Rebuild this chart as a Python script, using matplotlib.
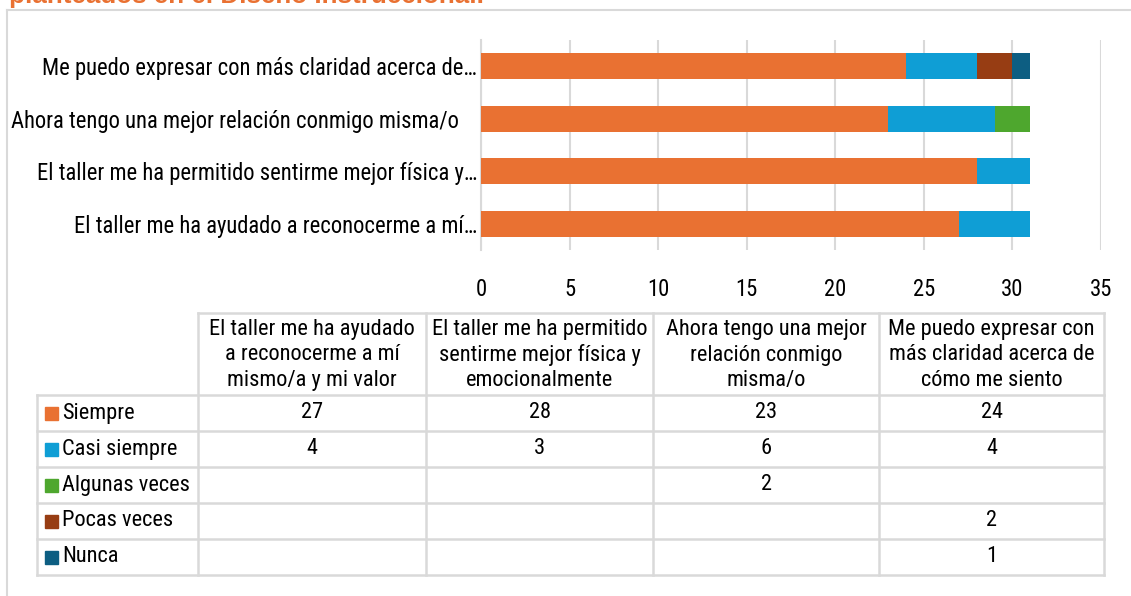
import matplotlib
matplotlib.use("Agg")
import matplotlib.pyplot as plt
from matplotlib.patches import Rectangle
from matplotlib.lines import Line2D
from matplotlib.transforms import ScaledTranslation
import numpy as np

# ---------------- data ----------------
categories = [
    "El taller me ha ayudado a reconocerme a mí mismo/a y mi valor",
    "El taller me ha permitido sentirme mejor física y emocionalmente",
    "Ahora tengo una mejor relación conmigo misma/o",
    "Me puedo expresar con más claridad acerca de cómo me siento",
]
axis_labels = [
    "El taller me ha ayudado a reconocerme a mí…",
    "El taller me ha permitido sentirme mejor física y…",
    "Ahora tengo una mejor relación conmigo misma/o",
    "Me puedo expresar con más claridad acerca de…",
]
header_labels = [
    "El taller me ha ayudado\na reconocerme a mí\nmismo/a y mi valor",
    "El taller me ha permitido\nsentirme mejor física y\nemocionalmente",
    "Ahora tengo una mejor\nrelación conmigo\nmisma/o",
    "Me puedo expresar con\nmás claridad acerca de\ncómo me siento",
]
series_names = ["Siempre", "Casi siempre", "Algunas veces", "Pocas veces", "Nunca"]
siempre = [27, 28, 23, 24]
casi_siempre = [4, 3, 6, 4]
algunas_veces = [0, 0, 2, 0]
pocas_veces = [0, 0, 0, 2]
nunca = [0, 0, 0, 1]
series_values = [siempre, casi_siempre, algunas_veces, pocas_veces, nunca]
colors = ["#E97132", "#0F9ED5", "#4EA72E", "#973D13", "#0D5E82"]
xticks = [0, 5, 10, 15, 20, 25, 30, 35]
title_text = "planteados en el Diseño Instruccional."

FONT = ["Roboto Condensed", "Liberation Sans", "DejaVu Sans"]
plt.rcParams["font.family"] = FONT

W, H = 1131, 596
fig = plt.figure(figsize=(W / 100, H / 100), dpi=100)

def px_rect(x0, y0, x1, y1):
    return [x0 / W, 1 - y1 / H, (x1 - x0) / W, (y1 - y0) / H]

# frame lines + title (cut off at top)
fig.add_artist(Line2D([7 / W, 7 / W], [0, 1 - 10 / H], color="#D9D9D9", lw=1.5))
fig.add_artist(Line2D([7 / W, 1], [1 - 10 / H, 1 - 10 / H], color="#D9D9D9", lw=1.5))
fig.text(9 / W, 1 - 3.5 / H, title_text, color="#E97132", fontsize=18.7,
         fontweight="bold", family=["Liberation Sans", "DejaVu Sans"],
         ha="left", va="baseline")

# ---------------- bar chart ----------------
ax = fig.add_axes(px_rect(481, 40, 1101, 250))
y = np.arange(len(categories))
left = np.zeros(len(categories))
for name, vals, c in zip(series_names, series_values, colors):
    vals = np.array(vals, dtype=float)
    ax.barh(y, vals, left=left, height=0.5, color=c, label=name, zorder=3)
    left += vals
ax.set_xlim(0, 35)
ax.set_ylim(-0.5, len(categories) - 0.5)
ax.set_xticks(xticks)
ax.set_xticklabels([str(t) for t in xticks])
ax.set_yticks(y)
ax.set_yticklabels(axis_labels)
ax.grid(axis="x", color="#D9D9D9", lw=1.5, zorder=0)
for s in ["top", "right", "bottom"]:
    ax.spines[s].set_visible(False)
ax.spines["left"].set_color("#D9D9D9")
ax.spines["left"].set_linewidth(1.5)
ax.tick_params(axis="both", length=0, labelsize=16.3, colors="black")
ax.tick_params(axis="x", pad=20)
ax.tick_params(axis="y", pad=3)
# the untruncated label sits a little left of the axis, as in the reference
lbl = ax.get_yticklabels()[2]
lbl.set_transform(lbl.get_transform() + ScaledTranslation(-0.18, 0, fig.dpi_scale_trans))

# ---------------- data table ----------------
col_edges = [37, 198, 426, 653, 879, 1104]
row_edges = [313, 395, 431, 467, 503, 539, 575]
tax = fig.add_axes(px_rect(col_edges[0], row_edges[0], col_edges[-1], row_edges[-1]))
tax.set_xlim(col_edges[0], col_edges[-1])
tax.set_ylim(row_edges[-1], row_edges[0])
tax.axis("off")
grid_c = "#D9D9D9"
lw = 1.8
for i in range(1, len(col_edges)):
    tax.plot([col_edges[i], col_edges[i]], [row_edges[0], row_edges[-1]], color=grid_c, lw=lw, solid_capstyle="projecting", clip_on=False)
tax.plot([col_edges[1], col_edges[-1]], [row_edges[0], row_edges[0]], color=grid_c, lw=lw, solid_capstyle="projecting", clip_on=False)
tax.plot([col_edges[0], col_edges[0]], [row_edges[1], row_edges[-1]], color=grid_c, lw=lw, solid_capstyle="projecting", clip_on=False)
for r in row_edges[1:]:
    tax.plot([col_edges[0], col_edges[-1]], [r, r], color=grid_c, lw=lw, solid_capstyle="projecting", clip_on=False)

fs = 16.1
for j, h in enumerate(header_labels):
    cx = (col_edges[j + 1] + col_edges[j + 2]) / 2
    cy = (row_edges[0] + row_edges[1]) / 2 + 1
    tax.text(cx, cy, h, ha="center", va="center", fontsize=fs, linespacing=1.27)

for i, (name, vals, c) in enumerate(zip(series_names, series_values, colors)):
    r0, r1 = row_edges[i + 1], row_edges[i + 2]
    cy = (r0 + r1) / 2
    tax.add_patch(Rectangle((45, cy - 6), 12.5, 12.5, color=c))
    tax.text(62, cy, name, ha="left", va="center", fontsize=fs)
    for j, v in enumerate(vals):
        if v:
            cx = (col_edges[j + 1] + col_edges[j + 2]) / 2
            tax.text(cx, cy, str(v), ha="center", va="center", fontsize=fs)

fig.savefig("out.png", dpi=100)
